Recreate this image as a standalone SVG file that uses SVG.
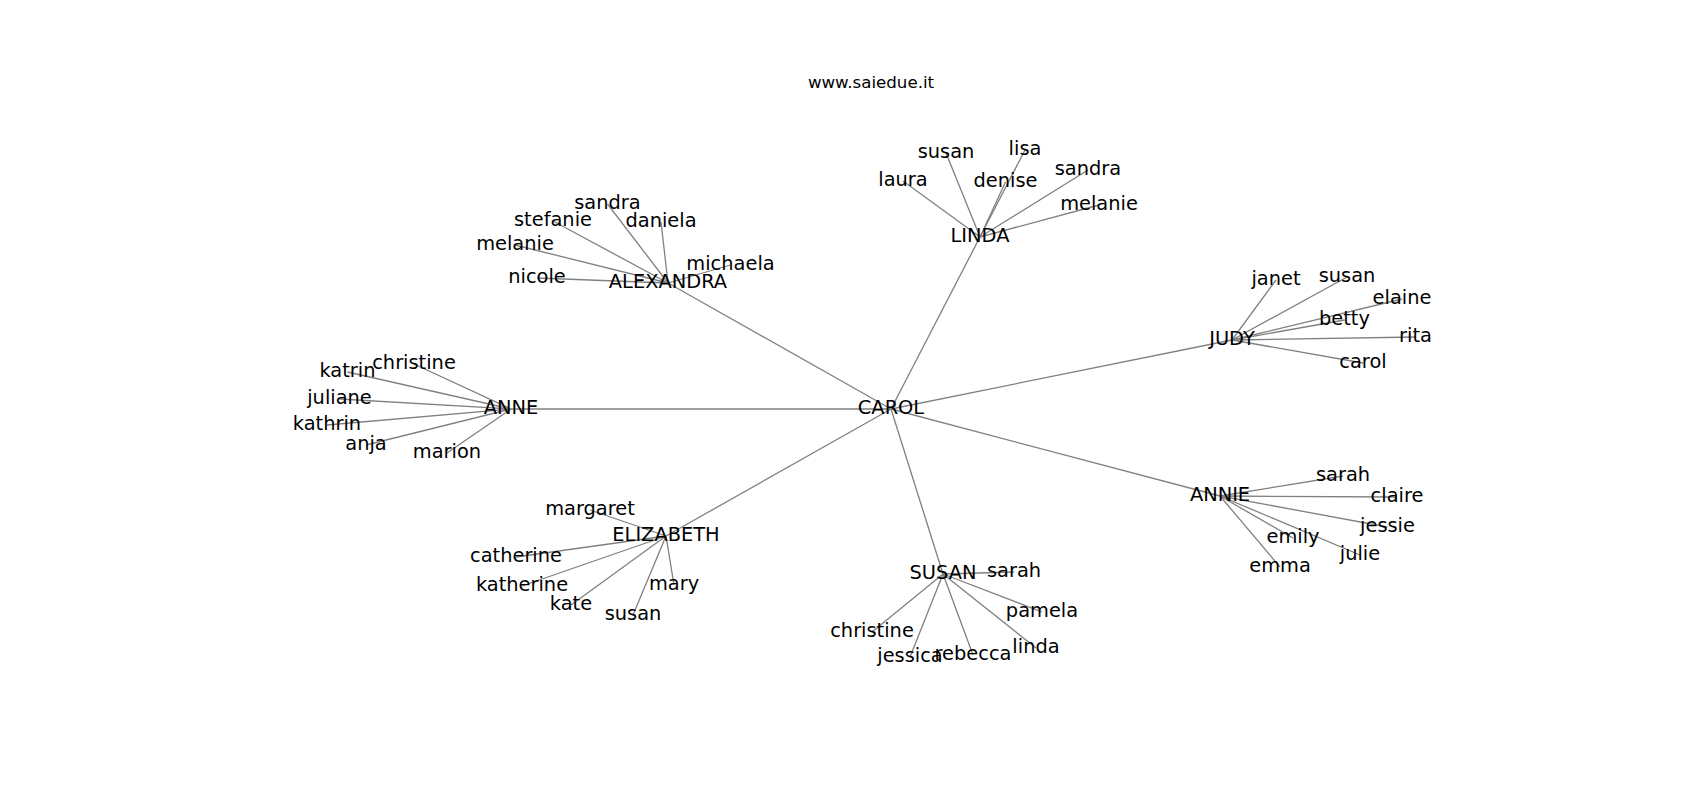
<svg xmlns="http://www.w3.org/2000/svg" width="1700" height="800" viewBox="0 0 1700 800">
<style>
text{font-family:"DejaVu Sans","Liberation Sans",sans-serif;font-size:19.4px;fill:#000;text-anchor:middle}
.title{font-size:16.67px}
#edges line{stroke:#808080;stroke-width:1.3}
</style>
<rect width="1700" height="800" fill="#fff"/>
<text class="title" x="871" y="88">www.saiedue.it</text>
<g id="edges">
<line x1="891" y1="409" x2="668" y2="283"/>
<line x1="891" y1="409" x2="980" y2="237"/>
<line x1="891" y1="409" x2="1232" y2="340"/>
<line x1="891" y1="409" x2="511" y2="409"/>
<line x1="891" y1="409" x2="666" y2="536"/>
<line x1="891" y1="409" x2="943" y2="574"/>
<line x1="891" y1="409" x2="1220" y2="496"/>
<line x1="668" y1="283" x2="607.5" y2="204"/>
<line x1="668" y1="283" x2="553" y2="221"/>
<line x1="668" y1="283" x2="661" y2="222"/>
<line x1="668" y1="283" x2="515" y2="245"/>
<line x1="668" y1="283" x2="730.5" y2="265"/>
<line x1="668" y1="283" x2="537" y2="278"/>
<line x1="980" y1="237" x2="946" y2="153"/>
<line x1="980" y1="237" x2="1025" y2="150"/>
<line x1="980" y1="237" x2="903" y2="181"/>
<line x1="980" y1="237" x2="1005.5" y2="182"/>
<line x1="980" y1="237" x2="1088" y2="170"/>
<line x1="980" y1="237" x2="1099" y2="205"/>
<line x1="1232" y1="340" x2="1276" y2="280"/>
<line x1="1232" y1="340" x2="1347" y2="277"/>
<line x1="1232" y1="340" x2="1402" y2="299"/>
<line x1="1232" y1="340" x2="1344.5" y2="320"/>
<line x1="1232" y1="340" x2="1415.5" y2="337"/>
<line x1="1232" y1="340" x2="1363" y2="363"/>
<line x1="511" y1="409" x2="347.5" y2="372"/>
<line x1="511" y1="409" x2="414" y2="364"/>
<line x1="511" y1="409" x2="339.5" y2="399"/>
<line x1="511" y1="409" x2="327" y2="425"/>
<line x1="511" y1="409" x2="366" y2="445"/>
<line x1="511" y1="409" x2="447" y2="453"/>
<line x1="666" y1="536" x2="590" y2="510"/>
<line x1="666" y1="536" x2="516" y2="557"/>
<line x1="666" y1="536" x2="522" y2="586"/>
<line x1="666" y1="536" x2="571" y2="605"/>
<line x1="666" y1="536" x2="674" y2="585"/>
<line x1="666" y1="536" x2="633" y2="615"/>
<line x1="943" y1="574" x2="1014" y2="572"/>
<line x1="943" y1="574" x2="1042" y2="612"/>
<line x1="943" y1="574" x2="872" y2="632"/>
<line x1="943" y1="574" x2="910" y2="657"/>
<line x1="943" y1="574" x2="973" y2="655"/>
<line x1="943" y1="574" x2="1036" y2="648"/>
<line x1="1220" y1="496" x2="1343" y2="476"/>
<line x1="1220" y1="496" x2="1397" y2="497"/>
<line x1="1220" y1="496" x2="1387.5" y2="527"/>
<line x1="1220" y1="496" x2="1293" y2="538"/>
<line x1="1220" y1="496" x2="1360" y2="555"/>
<line x1="1220" y1="496" x2="1280" y2="567"/>
</g>
<g id="carol"><text x="891" y="414">CAROL</text></g>
<g id="alexandra"><text x="668" y="288">ALEXANDRA</text></g>
<g id="linda"><text x="980" y="242">LINDA</text></g>
<g id="judy"><text x="1232" y="345">JUDY</text></g>
<g id="anne"><text x="511" y="414">ANNE</text></g>
<g id="elizabeth"><text x="666" y="541">ELIZABETH</text></g>
<g id="susan"><text x="943" y="579">SUSAN</text></g>
<g id="annie"><text x="1220" y="501">ANNIE</text></g>
<g id="alexandra-sandra"><text x="607.5" y="209">sandra</text></g>
<g id="alexandra-stefanie"><text x="553" y="226">stefanie</text></g>
<g id="alexandra-daniela"><text x="661" y="227">daniela</text></g>
<g id="alexandra-melanie"><text x="515" y="250">melanie</text></g>
<g id="alexandra-michaela"><text x="730.5" y="270">michaela</text></g>
<g id="alexandra-nicole"><text x="537" y="283">nicole</text></g>
<g id="linda-susan"><text x="946" y="158">susan</text></g>
<g id="linda-lisa"><text x="1025" y="155">lisa</text></g>
<g id="linda-laura"><text x="903" y="186">laura</text></g>
<g id="linda-denise"><text x="1005.5" y="187">denise</text></g>
<g id="linda-sandra"><text x="1088" y="175">sandra</text></g>
<g id="linda-melanie"><text x="1099" y="210">melanie</text></g>
<g id="judy-janet"><text x="1276" y="285">janet</text></g>
<g id="judy-susan"><text x="1347" y="282">susan</text></g>
<g id="judy-elaine"><text x="1402" y="304">elaine</text></g>
<g id="judy-betty"><text x="1344.5" y="325">betty</text></g>
<g id="judy-rita"><text x="1415.5" y="342">rita</text></g>
<g id="judy-carol"><text x="1363" y="368">carol</text></g>
<g id="anne-katrin"><text x="347.5" y="377">katrin</text></g>
<g id="anne-christine"><text x="414" y="369">christine</text></g>
<g id="anne-juliane"><text x="339.5" y="404">juliane</text></g>
<g id="anne-kathrin"><text x="327" y="430">kathrin</text></g>
<g id="anne-anja"><text x="366" y="450">anja</text></g>
<g id="anne-marion"><text x="447" y="458">marion</text></g>
<g id="elizabeth-margaret"><text x="590" y="515">margaret</text></g>
<g id="elizabeth-catherine"><text x="516" y="562">catherine</text></g>
<g id="elizabeth-katherine"><text x="522" y="591">katherine</text></g>
<g id="elizabeth-kate"><text x="571" y="610">kate</text></g>
<g id="elizabeth-mary"><text x="674" y="590">mary</text></g>
<g id="elizabeth-susan"><text x="633" y="620">susan</text></g>
<g id="susan-sarah"><text x="1014" y="577">sarah</text></g>
<g id="susan-pamela"><text x="1042" y="617">pamela</text></g>
<g id="susan-christine"><text x="872" y="637">christine</text></g>
<g id="susan-jessica"><text x="910" y="662">jessica</text></g>
<g id="susan-rebecca"><text x="973" y="660">rebecca</text></g>
<g id="susan-linda"><text x="1036" y="653">linda</text></g>
<g id="annie-sarah"><text x="1343" y="481">sarah</text></g>
<g id="annie-claire"><text x="1397" y="502">claire</text></g>
<g id="annie-jessie"><text x="1387.5" y="532">jessie</text></g>
<g id="annie-emily"><text x="1293" y="543">emily</text></g>
<g id="annie-julie"><text x="1360" y="560">julie</text></g>
<g id="annie-emma"><text x="1280" y="572">emma</text></g>
</svg>
